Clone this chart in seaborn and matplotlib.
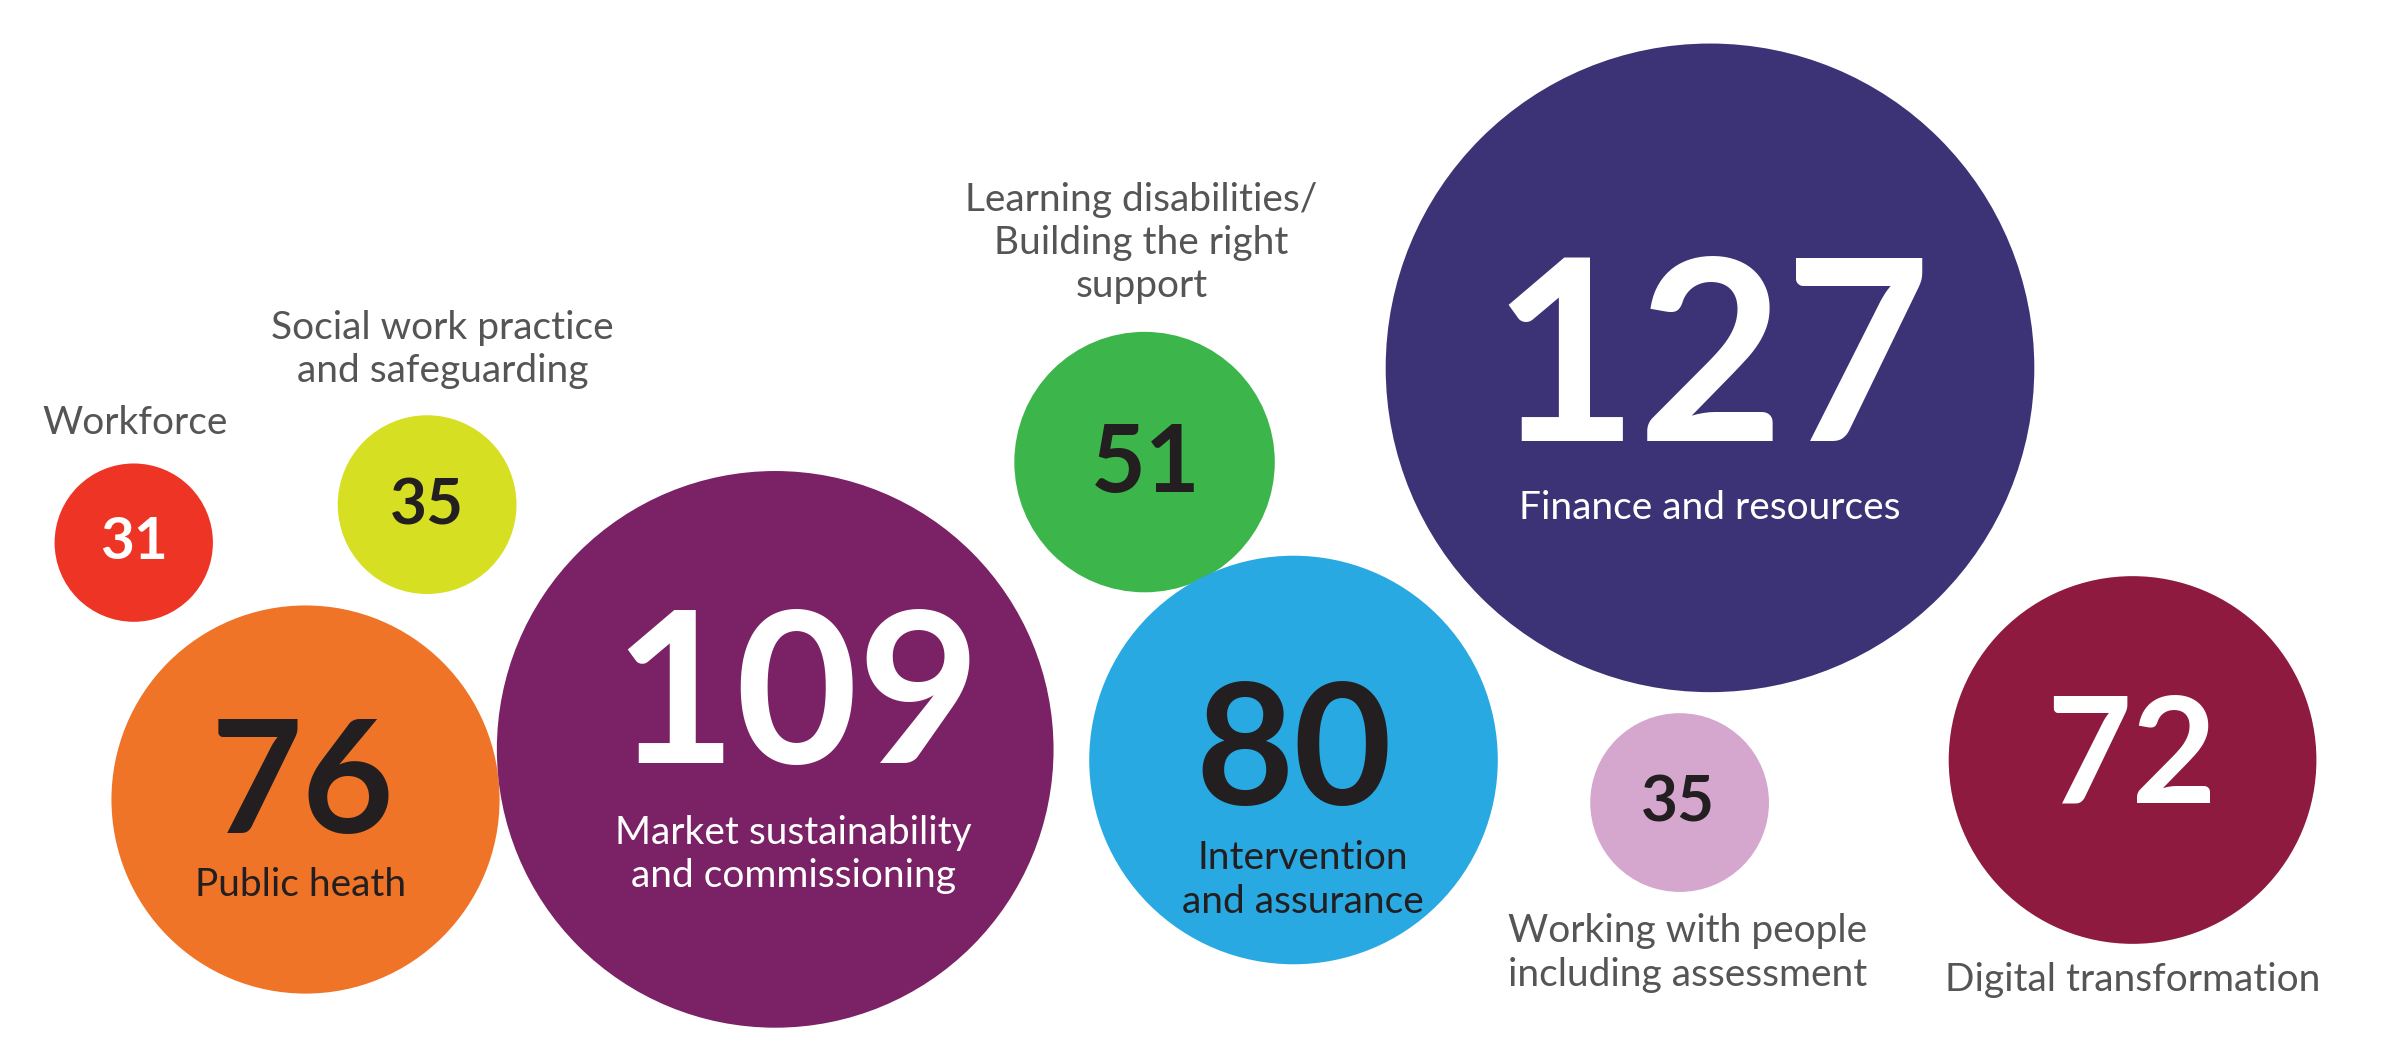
import matplotlib
matplotlib.use("Agg")
import matplotlib.pyplot as plt
import seaborn as sns
import pandas as pd

sns.set_theme(style="white")
plt.rcParams['font.family'] = ['Lato', 'DejaVu Sans']

labels = ["Workforce", "Social work practice\nand safeguarding", "Public heath",
          "Market sustainability\nand commissioning", "Learning disabilities/\nBuilding the right\nsupport",
          "Intervention\nand assurance", "Finance and resources",
          "Working with people\nincluding assessment", "Digital transformation"]
values = [31, 35, 76, 109, 51, 80, 127, 35, 72]
xs = [88, 281, 201, 510, 753, 851, 1125, 1105, 1403]
ys = [357, 332, 526, 493, 304, 500, 242, 528, 500]
colors = ["#EE3424", "#D7DF23", "#F07427", "#7B2165", "#3CB54A", "#29A9E1", "#3C3276", "#D5A6CE", "#8F1A3F"]

S = 1.52  # display->actual px
W, H = 2383, 1043
fig = plt.figure(figsize=(W/100, H/100), dpi=100)
ax = fig.add_axes([0, 0, 1, 1])
df = pd.DataFrame({"x": xs, "y": ys, "label": labels, "value": values})
sizes = {l: (2 * 1.68 * v * S * 0.72) ** 2 for l, v in zip(labels, values)}
sns.scatterplot(data=df, x="x", y="y", hue="label", size="label", sizes=sizes,
                palette=dict(zip(labels, colors)), linewidth=0, legend=False, ax=ax)
ax.set_xlim(0, W / S)
ax.set_ylim(H / S, 0)
ax.axis("off")

DARK = "#231F20"; GRAY = "#555555"
num = [(88, 357, 42, "white"), (281, 333, 46, DARK), (199, 518, 114, DARK), (524, 462, 152, "white"),
       (754, 306, 68, DARK), (851, 498, 122, DARK), (1126, 242, 182, "white"), (1104, 528, 46, DARK),
       (1402, 500, 106, "white")]
lab = [(89, 278, GRAY), (291, 230, GRAY), (198, 582, DARK), (522, 562, "white"), (751, 160, GRAY),
       (857, 579, DARK), (1125, 334, "white"), (1110, 627, GRAY), (1403, 645, GRAY)]
for v, (x, y, fs, c) in zip(values, num):
    ax.text(x, y, str(v), ha="center", va="center", fontsize=fs, fontweight="bold", color=c)
for l, (x, y, c) in zip(labels, lab):
    ax.text(x, y, l, ha="center", va="center", fontsize=28, color=c, linespacing=1.25)

fig.savefig("out.png", dpi=100, facecolor="white")
